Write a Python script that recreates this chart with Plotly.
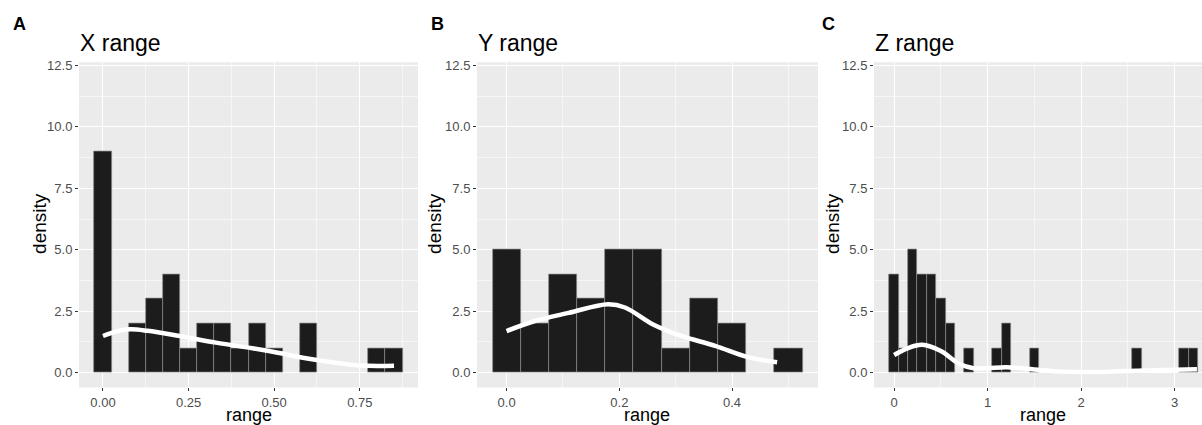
import plotly.graph_objects as go

W, H = 1202, 425

# ---------------- data ----------------
panel_letters = ["A", "B", "C"]
panel_titles = ["X range", "Y range", "Z range"]

x_bin_centers = [0.00, 0.05, 0.10, 0.15, 0.20, 0.25, 0.30, 0.35, 0.40, 0.45, 0.50, 0.55, 0.60, 0.65, 0.70, 0.75, 0.80, 0.85]
x_density = [9, 0, 2, 3, 4, 1, 2, 2, 1, 2, 1, 0, 2, 0, 0, 0, 1, 1]
x_kde_x = [0.00, 0.04, 0.08, 0.13, 0.22, 0.33, 0.48, 0.62, 0.75, 0.85]
x_kde_y = [1.49, 1.68, 1.76, 1.70, 1.50, 1.22, 0.89, 0.52, 0.29, 0.28]

y_bin_centers = [0.00, 0.05, 0.10, 0.15, 0.20, 0.25, 0.30, 0.35, 0.40, 0.45, 0.50]
y_density = [5, 2, 4, 3, 5, 5, 1, 3, 2, 0, 1]
y_kde_x = [0.00, 0.05, 0.11, 0.18, 0.21, 0.26, 0.31, 0.37, 0.43, 0.48]
y_kde_y = [1.69, 2.10, 2.43, 2.78, 2.65, 1.96, 1.49, 1.09, 0.62, 0.42]

z_bin_centers = [0.0, 0.1, 0.2, 0.3, 0.4, 0.5, 0.6, 0.7, 0.8, 0.9, 1.0, 1.1, 1.2, 1.3, 1.4, 1.5, 2.6, 3.1, 3.2]
z_density = [4, 1, 5, 4, 4, 3, 2, 0, 1, 0, 0, 1, 2, 0, 0, 1, 1, 1, 1]
z_kde_x = [0.00, 0.15, 0.30, 0.50, 0.70, 0.85, 1.00, 1.20, 1.50, 1.80, 2.00, 2.30, 2.60, 3.00, 3.24]
z_kde_y = [0.72, 1.00, 1.13, 0.88, 0.35, 0.18, 0.18, 0.22, 0.13, 0.04, 0.02, 0.04, 0.08, 0.12, 0.14]

bin_widths = [0.05, 0.05, 0.1]
y_ticks = [0.0, 2.5, 5.0, 7.5, 10.0, 12.5]
y_tick_text = ["0.0", "2.5", "5.0", "7.5", "10.0", "12.5"]
x_ticks = [[0.00, 0.25, 0.50, 0.75], [0.0, 0.2, 0.4], [0, 1, 2, 3]]
x_tick_text = [["0.00", "0.25", "0.50", "0.75"], ["0.0", "0.2", "0.4"], ["0", "1", "2", "3"]]
x_minor = [0.125, 0.1, 0.5]

# ---------------- layout geometry (pixels) ----------------
panel_px = [(79, 418), (477, 818), (874, 1202)]
x_ranges = [[-0.07, 0.92], [-0.0525, 0.5525], [-0.215, 3.294]]
y_range = [-0.6, 12.62]
top_px, bot_px = 59, 387

def px(x):
    return x / W

def py(y):
    return 1 - y / H

bins = [(x_bin_centers, x_density), (y_bin_centers, y_density), (z_bin_centers, z_density)]
kdes = [(x_kde_x, x_kde_y), (y_kde_x, y_kde_y), (z_kde_x, z_kde_y)]

fig = go.Figure()
FONT = "Liberation Sans, Arial, sans-serif"
annotations = []

for i in range(3):
    xa = "x" if i == 0 else f"x{i+1}"
    ya = "y" if i == 0 else f"y{i+1}"
    cx, cy = bins[i]
    xs = [c for c, v in zip(cx, cy) if v > 0]
    ys = [v for v in cy if v > 0]
    fig.add_trace(go.Bar(
        x=xs, y=ys, width=bin_widths[i], xaxis=xa, yaxis=ya,
        marker=dict(color="#1c1c1c", line=dict(color="#8a8a8a", width=0.7)),
        showlegend=False, hoverinfo="skip"))
    kx, ky = kdes[i]
    fig.add_trace(go.Scatter(
        x=kx, y=ky, xaxis=xa, yaxis=ya, mode="lines",
        line=dict(color="white", width=4.5, shape="spline", smoothing=1.0),
        showlegend=False, hoverinfo="skip"))

    l, r = panel_px[i]
    xkey = "xaxis" if i == 0 else f"xaxis{i+1}"
    ykey = "yaxis" if i == 0 else f"yaxis{i+1}"
    fig.layout[xkey] = dict(
        domain=[px(l), px(r)], range=x_ranges[i], anchor=ya,
        tickvals=x_ticks[i], ticktext=x_tick_text[i],
        ticks="outside", ticklen=3, tickcolor="#333333", tickwidth=1,
        tickfont=dict(family=FONT, size=13, color="#4d4d4d"),
        showgrid=True, gridcolor="white", gridwidth=1.1,
        minor=dict(tick0=x_minor[i], dtick=2 * x_minor[i] if i < 2 else 1.0,
                   showgrid=True, gridcolor="#f6f6f6", gridwidth=0.6, ticks=""),
        zeroline=False, showline=False, fixedrange=True)
    fig.layout[ykey] = dict(
        domain=[py(bot_px), py(top_px)], range=y_range, anchor=xa,
        tickvals=y_ticks, ticktext=y_tick_text,
        ticks="outside", ticklen=3, tickcolor="#333333", tickwidth=1,
        tickfont=dict(family=FONT, size=13, color="#4d4d4d"),
        showgrid=True, gridcolor="white", gridwidth=1.1,
        minor=dict(tick0=1.25, dtick=2.5, showgrid=True, gridcolor="#f6f6f6",
                   gridwidth=0.6, ticks=""),
        zeroline=False, showline=False, fixedrange=True)

    # panel background
    fig.add_shape(type="rect", xref="paper", yref="paper",
                  x0=px(l), x1=px(r), y0=py(bot_px), y1=py(top_px),
                  fillcolor="#ebebeb", line=dict(width=0), layer="below")

    # letter
    letter_x = [19, 437, 828][i]
    annotations.append(dict(text=f"<b>{panel_letters[i]}</b>", x=px(letter_x), y=py(20.5),
                            xref="paper", yref="paper", showarrow=False,
                            xanchor="center", yanchor="middle",
                            font=dict(family=FONT, size=18, color="black")))
    # title
    annotations.append(dict(text=panel_titles[i], x=px(l - 1), y=py(39.5),
                            xref="paper", yref="paper", showarrow=False,
                            xanchor="left", yanchor="middle",
                            font=dict(family=FONT, size=23, color="black")))
    # y-axis title
    dens_x = [40, 435, 833][i]
    annotations.append(dict(text="density", x=px(dens_x), y=py(222), textangle=-90,
                            xref="paper", yref="paper", showarrow=False,
                            xanchor="center", yanchor="middle",
                            font=dict(family=FONT, size=19, color="black")))
    # x-axis title
    range_x = [248.5, 647, 1043][i]
    annotations.append(dict(text="range", x=px(range_x), y=py(414.5),
                            xref="paper", yref="paper", showarrow=False,
                            xanchor="center", yanchor="middle",
                            font=dict(family=FONT, size=18, color="black")))

fig.update_layout(
    width=W, height=H,
    margin=dict(l=0, r=0, t=0, b=0),
    paper_bgcolor="white", plot_bgcolor="#ebebeb",
    bargap=0, barmode="overlay",
    annotations=annotations,
    font=dict(family=FONT),
)

fig.write_html("out.html", config={"displayModeBar": False},
               post_script="document.body.style.margin='0px';document.body.style.overflow='hidden';")
